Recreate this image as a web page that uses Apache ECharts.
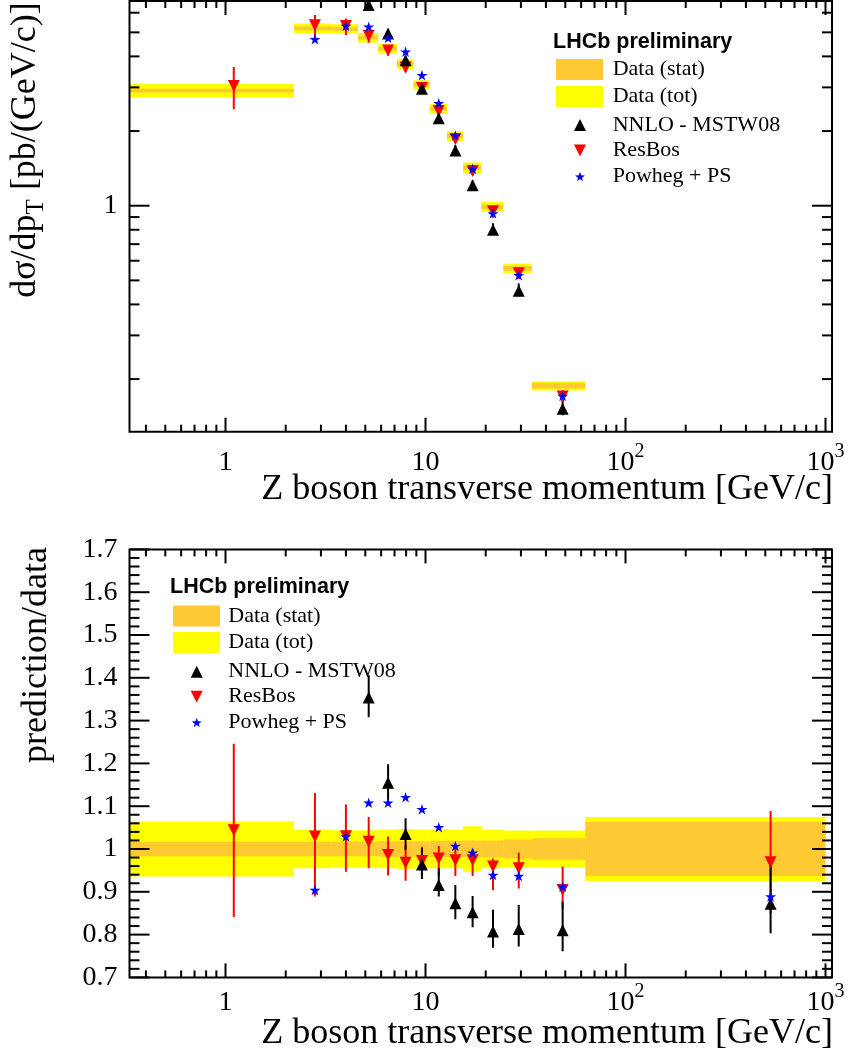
<!DOCTYPE html>
<html>
<head>
<meta charset="utf-8">
<script src="https://cdn.jsdelivr.net/npm/echarts@6/dist/echarts.min.js"></script>
<style>
  html, body { margin: 0; padding: 0; background: #ffffff; }
  #chart { width: 850px; height: 1058px; }
</style>
</head>
<body>
<div id="chart"></div>
<script>
// ---- Z boson pT spectrum: binning --------------------------------------
const binEdges   = [0, 2.2, 3.4, 4.6, 5.8, 7.2, 8.7, 10.5, 12.8, 15.4, 19.0, 24.5, 34.0, 63.0, 1000.0];
const binCentres = [1.1, 2.8, 4.0, 5.2, 6.5, 7.95, 9.6, 11.65, 14.1, 17.2, 21.75, 29.25, 48.5, 531.5];

// ---- measured dσ/dpT [pb/(GeV/c)] (the last bin falls below the upper frame) ----
const dataXsec = [2.91, 5.19, 5.16, 4.76, 4.29, 3.73, 3.07, 2.46, 1.91, 1.42, 0.99, 0.559, 0.188, null];
// relative statistical and total uncertainties per bin
const relStat = [0.017, 0.017, 0.017, 0.017, 0.018, 0.018, 0.018, 0.019, 0.019, 0.020, 0.020, 0.022, 0.025, 0.063];
const relTot  = [0.064, 0.045, 0.044, 0.044, 0.045, 0.047, 0.045, 0.045, 0.045, 0.053, 0.045, 0.043, 0.043, 0.075];

// ---- predictions, upper panel [pb/(GeV/c)] ----
const nnloXsec   = [null, null, null, 6.45, 4.95, 3.86, 2.96, 2.25, 1.67, 1.21, 0.80, 0.454, 0.152, null];
const resbosXsec = [3.04, 5.34, 5.31, 4.84, 4.23, 3.61, 2.98, 2.41, 1.86, 1.38, 0.949, 0.534, 0.170, null];
const powhegXsec = [null, 4.69, 5.31, 5.27, 4.75, 4.18, 3.36, 2.59, 1.92, 1.41, 0.930, 0.524, 0.171, null];

// ---- prediction/data, lower panel, with uncertainty limits ----
const nnloRatio     = [null, null, null, 1.354, 1.155, 1.035, 0.964, 0.916, 0.873, 0.852, 0.807, 0.813, 0.810, 0.872];
const nnloRatioHi   = [null, null, null, 1.406, 1.198, 1.072, 1.002, 0.955, 0.916, 0.890, 0.858, 0.869, 0.877, 0.963];
const nnloRatioLo   = [null, null, null, 1.308, 1.114, 0.998, 0.930, 0.889, 0.836, 0.817, 0.769, 0.772, 0.761, 0.803];
const resbosRatio   = [1.044, 1.029, 1.030, 1.017, 0.986, 0.968, 0.972, 0.978, 0.974, 0.974, 0.959, 0.955, 0.904, 0.969];
const resbosRatioHi = [1.246, 1.131, 1.104, 1.075, 1.029, 1.008, 1.005, 1.007, 1.002, 1.000, 0.978, 0.991, 0.959, 1.089];
const resbosRatioLo = [0.841, 0.889, 0.947, 0.955, 0.938, 0.926, 0.940, 0.937, 0.937, 0.937, 0.904, 0.908, 0.860, 0.850];
const powhegRatio   = [null, 0.904, 1.029, 1.108, 1.108, 1.121, 1.093, 1.051, 1.007, 0.991, 0.939, 0.937, 0.912, 0.889];

// ---- axis ticks and labels ----
const xMajorTicks   = [1, 10, 100, 1000];
const xMajorLabels  = ['1', '10', '10^2', '10^3'];
const xMinorTicks   = [0.4, 0.5, 0.6, 0.7, 0.8, 0.9, 2, 3, 4, 5, 6, 7, 8, 9,
                       20, 30, 40, 50, 60, 70, 80, 90, 200, 300, 400, 500, 600, 700, 800, 900];
const yTopMajorTicks  = [1];
const yTopMajorLabels = ['1'];
const yTopMinorTicks  = [0.2, 0.3, 0.4, 0.5, 0.6, 0.7, 0.8, 0.9, 2, 3, 4, 5, 6];
const ratioMajorTicks  = [0.7, 0.8, 0.9, 1.0, 1.1, 1.2, 1.3, 1.4, 1.5, 1.6, 1.7];
const ratioMajorLabels = ['0.7', '0.8', '0.9', '1', '1.1', '1.2', '1.3', '1.4', '1.5', '1.6', '1.7'];

// ---- axis ranges ----
const X_MIN = 0.3311, X_MAX = 1077.7;
const Y_TOP_MIN = 0.1227, Y_TOP_MAX = 6.69;
const RATIO_MIN = 0.7, RATIO_MAX = 1.7;

// ---- styling ----
const SERIF = '"Liberation Serif", "Times New Roman", serif';
const SANS  = '"Liberation Sans", Arial, Helvetica, sans-serif';
const YELLOW = '#FFFF00';
const ORANGE = '#FFC933';
const STAR = 'path://M0,-1 L0.2245,-0.309 L0.951,-0.309 L0.363,0.118 L0.588,0.809 L0,0.382 L-0.588,0.809 L-0.363,0.118 L-0.951,-0.309 L-0.2245,-0.309 Z';

const measureCtx = document.createElement('canvas').getContext('2d');
function textWidth(str, font) { measureCtx.font = font; return measureCtx.measureText(str).width; }

// ---- series builders ----
function bandSeries(gi, items, colour) {
  return {
    type: 'custom', xAxisIndex: gi, yAxisIndex: gi, clip: true, silent: true, z: 2,
    encode: { x: 0, y: 1 }, data: items,
    renderItem(params, api) {
      const lo = Math.max(api.value(2), X_MIN);
      const p0 = api.coord([lo, api.value(5)]);
      const p1 = api.coord([api.value(3), api.value(4)]);
      return { type: 'rect', shape: { x: p0[0], y: p0[1], width: p1[0] - p0[0], height: p1[1] - p0[1] },
               style: { fill: colour } };
    }
  };
}
function bandItems(central, rel) {
  const out = [];
  central.forEach((c, i) => {
    if (c == null) return;
    out.push([binCentres[i], c, binEdges[i], binEdges[i + 1], c * (1 - rel[i]), c * (1 + rel[i])]);
  });
  return out;
}
function errorBarSeries(gi, items, colour) {
  return {
    type: 'custom', xAxisIndex: gi, yAxisIndex: gi, clip: true, silent: true, z: 3,
    encode: { x: 0, y: 1 }, data: items,
    renderItem(params, api) {
      const a = api.coord([api.value(0), api.value(2)]);
      const b = api.coord([api.value(0), api.value(3)]);
      return { type: 'line', shape: { x1: a[0], y1: a[1], x2: b[0], y2: b[1] },
               style: { stroke: colour, lineWidth: 2 } };
    }
  };
}
function markerSeries(gi, points, symbol, size, colour, rotate) {
  return {
    type: 'scatter', xAxisIndex: gi, yAxisIndex: gi, silent: true, z: 4,
    symbol: symbol, symbolSize: size, symbolRotate: rotate || 0, symbolKeepAspect: true,
    itemStyle: { color: colour, opacity: 1 }, data: points
  };
}
function pts(xs, ys) {
  const out = [];
  ys.forEach((y, i) => { if (y != null) out.push([xs[i], y]); });
  return out;
}
function bars(ys, his, los) {
  const out = [];
  ys.forEach((y, i) => { if (y != null) out.push([binCentres[i], y, los[i], his[i]]); });
  return out;
}
// scale ratio uncertainty limits onto the upper-panel prediction values
function scaledLimits(xsec, ratio, lim) {
  return xsec.map((v, i) => (v == null || ratio[i] == null) ? null : v * lim[i] / ratio[i]);
}

// ---- frame ticks, drawn on all four sides like the classic physics frame ----
const X_MAJOR_LEN = 14, X_MINOR_LEN = 7, Y_MAJOR_LEN = 20, Y_MINOR_LEN = 10;
function xTickSeries(gi, yRef) {
  const data = xMajorTicks.map(v => [v, yRef, 1]).concat(xMinorTicks.map(v => [v, yRef, 0]));
  return {
    type: 'custom', xAxisIndex: gi, yAxisIndex: gi, silent: true, z: 11,
    encode: { x: 0, y: 1 }, data: data,
    renderItem(params, api) {
      const cs = params.coordSys;
      const px = api.coord([api.value(0), api.value(1)])[0];
      const len = api.value(2) ? X_MAJOR_LEN : X_MINOR_LEN;
      const top = cs.y, bot = cs.y + cs.height;
      const st = { stroke: '#000', lineWidth: 2 };
      return { type: 'group', children: [
        { type: 'line', shape: { x1: px, y1: bot, x2: px, y2: bot - len }, style: st },
        { type: 'line', shape: { x1: px, y1: top, x2: px, y2: top + len }, style: st }
      ] };
    }
  };
}
function yTickSeries(gi, majors, minors) {
  const data = majors.map(v => [1, v, 1]).concat(minors.map(v => [1, v, 0]));
  return {
    type: 'custom', xAxisIndex: gi, yAxisIndex: gi, silent: true, z: 11,
    encode: { x: 0, y: 1 }, data: data,
    renderItem(params, api) {
      const cs = params.coordSys;
      const py = api.coord([api.value(0), api.value(1)])[1];
      const len = api.value(2) ? Y_MAJOR_LEN : Y_MINOR_LEN;
      const left = cs.x, right = cs.x + cs.width;
      const st = { stroke: '#000', lineWidth: 2 };
      return { type: 'group', children: [
        { type: 'line', shape: { x1: left, y1: py, x2: left + len, y2: py }, style: st },
        { type: 'line', shape: { x1: right, y1: py, x2: right - len, y2: py }, style: st }
      ] };
    }
  };
}
const LABEL_FONT = '28px ' + SERIF;
const SUP_FONT = '20px ' + SERIF;
function xLabelSeries(gi, yRef, offset) {
  return {
    type: 'custom', xAxisIndex: gi, yAxisIndex: gi, silent: true, z: 11,
    encode: { x: 0, y: 1 }, data: xMajorTicks.map((v, i) => [v, yRef, i]),
    renderItem(params, api) {
      const cs = params.coordSys;
      const px = api.coord([api.value(0), api.value(1)])[0];
      const py = cs.y + cs.height + offset;
      const parts = xMajorLabels[api.value(2)].split('^');
      if (parts.length === 1) {
        return { type: 'text', x: px, y: py,
                 style: { text: parts[0], font: LABEL_FONT, fill: '#000',
                          align: 'center', verticalAlign: 'middle', textAlign: 'center', textVerticalAlign: 'middle' } };
      }
      const wb = textWidth(parts[0], LABEL_FONT), ws = textWidth(parts[1], SUP_FONT);
      const x0 = px - (wb + ws) / 2;
      return { type: 'group', children: [
        { type: 'text', x: x0, y: py,
          style: { text: parts[0], font: LABEL_FONT, fill: '#000',
                   align: 'left', verticalAlign: 'middle', textAlign: 'left', textVerticalAlign: 'middle' } },
        { type: 'text', x: x0 + wb, y: py - 11,
          style: { text: parts[1], font: SUP_FONT, fill: '#000',
                   align: 'left', verticalAlign: 'middle', textAlign: 'left', textVerticalAlign: 'middle' } }
      ] };
    }
  };
}
function yLabelSeries(gi, ticks, labels) {
  return {
    type: 'custom', xAxisIndex: gi, yAxisIndex: gi, silent: true, z: 11,
    encode: { x: 0, y: 1 }, data: ticks.map((v, i) => [1, v, i]),
    renderItem(params, api) {
      const cs = params.coordSys;
      const py = api.coord([api.value(0), api.value(1)])[1];
      return { type: 'text', x: cs.x - 12, y: py,
               style: { text: labels[api.value(2)], font: LABEL_FONT, fill: '#000',
                        align: 'right', verticalAlign: 'middle', textAlign: 'right', textVerticalAlign: 'middle' } };
    }
  };
}

// ---- upper panel derived items ----
const topYellow = bandItems(dataXsec, relTot);
const topOrange = bandItems(dataXsec, relStat);
const topResbosBars = bars(resbosXsec, scaledLimits(resbosXsec, resbosRatio, resbosRatioHi),
                                        scaledLimits(resbosXsec, resbosRatio, resbosRatioLo));
const topNnloBars = bars(nnloXsec, scaledLimits(nnloXsec, nnloRatio, nnloRatioHi),
                                    scaledLimits(nnloXsec, nnloRatio, nnloRatioLo));
// ---- lower panel derived items ----
const unity = binCentres.map(() => 1);
const lowYellow = bandItems(unity, relTot);
const lowOrange = bandItems(unity, relStat);

// ---- legend (drawn as graphic elements) ----
function legend(x0, yTitle, yRows, textX, markerX) {
  const txt = (t, x, y, font) => ({ type: 'text', x: x, y: y, silent: true, z: 20,
    style: { text: t, font: font, fill: '#000', align: 'left', verticalAlign: 'middle',
             textAlign: 'left', textVerticalAlign: 'middle' } });
  const els = [];
  els.push(txt('LHCb preliminary', x0, yTitle, 'bold 21.5px ' + SANS));
  els.push({ type: 'rect', silent: true, z: 20, shape: { x: x0 + 3, y: yRows[0] - 10.5, width: 47, height: 21, r: 1 }, style: { fill: ORANGE } });
  els.push({ type: 'rect', silent: true, z: 20, shape: { x: x0 + 3, y: yRows[1] - 10.5, width: 47, height: 21, r: 1 }, style: { fill: YELLOW } });
  els.push(txt('Data (stat)', textX, yRows[0], '22px ' + SERIF));
  els.push(txt('Data (tot)', textX, yRows[1], '22px ' + SERIF));
  els.push({ type: 'polygon', silent: true, z: 20, x: markerX, y: yRows[2],
             shape: { points: [[-6, 6], [6, 6], [0, -6]] }, style: { fill: '#000' } });
  els.push(txt('NNLO - MSTW08', textX, yRows[2], '22px ' + SERIF));
  els.push({ type: 'polygon', silent: true, z: 20, x: markerX, y: yRows[3],
             shape: { points: [[-6, -6], [6, -6], [0, 6]] }, style: { fill: '#FF0000' } });
  els.push(txt('ResBos', textX, yRows[3], '22px ' + SERIF));
  const star = [];
  for (let k = 0; k < 10; k++) {
    const r = (k % 2 === 0) ? 5.2 : 2.1;
    const a = -Math.PI / 2 + k * Math.PI / 5;
    star.push([r * Math.cos(a), r * Math.sin(a)]);
  }
  els.push({ type: 'polygon', silent: true, z: 20, x: markerX, y: yRows[4] + 0.5,
             shape: { points: star }, style: { fill: '#0000FF' } });
  els.push(txt('Powheg + PS', textX, yRows[4], '22px ' + SERIF));
  return els;
}

// rotated axis title with a subscript, pieces laid out along the text direction
function rotatedTitle(cx, cy, pieces) {
  const widths = pieces.map(p => textWidth(p.text, p.font));
  const total = widths.reduce((a, b) => a + b, 0);
  let y = cy + total / 2;
  return pieces.map((p, i) => {
    const el = { type: 'text', x: cx + (p.shift || 0), y: y, rotation: Math.PI / 2, silent: true, z: 20,
      style: { text: p.text, font: p.font, fill: '#000', align: 'left', verticalAlign: 'middle',
               textAlign: 'left', textVerticalAlign: 'middle' } };
    y -= widths[i];
    return el;
  });
}

const graphics = []
  .concat(rotatedTitle(26, 150, [
    { text: 'dσ/dp', font: '36px ' + SERIF },
    { text: 'T', font: '25px ' + SERIF, shift: 10 },
    { text: ' [pb/(GeV/c)]', font: '36px ' + SERIF }
  ]))
  .concat(rotatedTitle(37, 655, [{ text: 'prediction/data', font: '36px ' + SERIF }]))
  .concat([
    { type: 'text', x: 833, y: 490, silent: true, z: 20,
      style: { text: 'Z boson transverse momentum [GeV/c]', font: '36px ' + SERIF, fill: '#000',
               align: 'right', verticalAlign: 'middle', textAlign: 'right', textVerticalAlign: 'middle' } },
    { type: 'text', x: 833, y: 1034, silent: true, z: 20,
      style: { text: 'Z boson transverse momentum [GeV/c]', font: '36px ' + SERIF, fill: '#000',
               align: 'right', verticalAlign: 'middle', textAlign: 'right', textVerticalAlign: 'middle' } }
  ])
  .concat(legend(553, 41.7, [69.5, 96.5, 125, 150.5, 176.5], 612.7, 580))
  .concat(legend(170, 586.7, [616, 642.5, 671.7, 696.7, 722.5], 228.3, 196.7));

const gridCommon = { left: 129.5, width: 702.5, show: true, borderColor: '#000', borderWidth: 2,
                     backgroundColor: 'transparent', z: 10, containLabel: false, outerBoundsMode: 'none' };
const hiddenAxis = { show: false, axisLine: { show: false }, axisTick: { show: false },
                     axisLabel: { show: false }, splitLine: { show: false } };

const option = {
  animation: false,
  backgroundColor: '#ffffff',
  grid: [
    Object.assign({ top: 1, height: 430.7 }, gridCommon),
    Object.assign({ top: 549.4, height: 428 }, gridCommon)
  ],
  xAxis: [
    Object.assign({ gridIndex: 0, type: 'log', logBase: 10, min: X_MIN, max: X_MAX }, hiddenAxis),
    Object.assign({ gridIndex: 1, type: 'log', logBase: 10, min: X_MIN, max: X_MAX }, hiddenAxis)
  ],
  yAxis: [
    Object.assign({ gridIndex: 0, type: 'log', logBase: 10, min: Y_TOP_MIN, max: Y_TOP_MAX }, hiddenAxis),
    Object.assign({ gridIndex: 1, type: 'value', min: RATIO_MIN, max: RATIO_MAX }, hiddenAxis)
  ],
  graphic: graphics,
  series: [
    // upper panel
    bandSeries(0, topYellow, YELLOW),
    bandSeries(0, topOrange, ORANGE),
    errorBarSeries(0, topResbosBars, '#FF0000'),
    markerSeries(0, pts(binCentres, resbosXsec), 'triangle', 12, '#FF0000', 180),
    errorBarSeries(0, topNnloBars, '#000000'),
    markerSeries(0, pts(binCentres, nnloXsec), 'triangle', 12, '#000000'),
    markerSeries(0, pts(binCentres, powhegXsec), STAR, 11, '#0000FF'),
    // lower panel
    bandSeries(1, lowYellow, YELLOW),
    bandSeries(1, lowOrange, ORANGE),
    errorBarSeries(1, bars(resbosRatio, resbosRatioHi, resbosRatioLo), '#FF0000'),
    markerSeries(1, pts(binCentres, resbosRatio), 'triangle', 12, '#FF0000', 180),
    errorBarSeries(1, bars(nnloRatio, nnloRatioHi, nnloRatioLo), '#000000'),
    markerSeries(1, pts(binCentres, nnloRatio), 'triangle', 12, '#000000'),
    markerSeries(1, pts(binCentres, powhegRatio), STAR, 11, '#0000FF'),
    // frame ticks and labels
    xTickSeries(0, 1), yTickSeries(0, yTopMajorTicks, yTopMinorTicks),
    xTickSeries(1, 1), yTickSeries(1, ratioMajorTicks,
      (() => { const m = []; for (let k = 35; k <= 85; k++) if (k % 5 !== 0) m.push(k / 50); return m; })()),
    xLabelSeries(0, 1, 31), yLabelSeries(0, yTopMajorTicks, yTopMajorLabels),
    xLabelSeries(1, 1, 25), yLabelSeries(1, ratioMajorTicks, ratioMajorLabels)
  ]
};

const chart = echarts.init(document.getElementById('chart'), null, { renderer: 'canvas' });
chart.setOption(option);
</script>
</body>
</html>
